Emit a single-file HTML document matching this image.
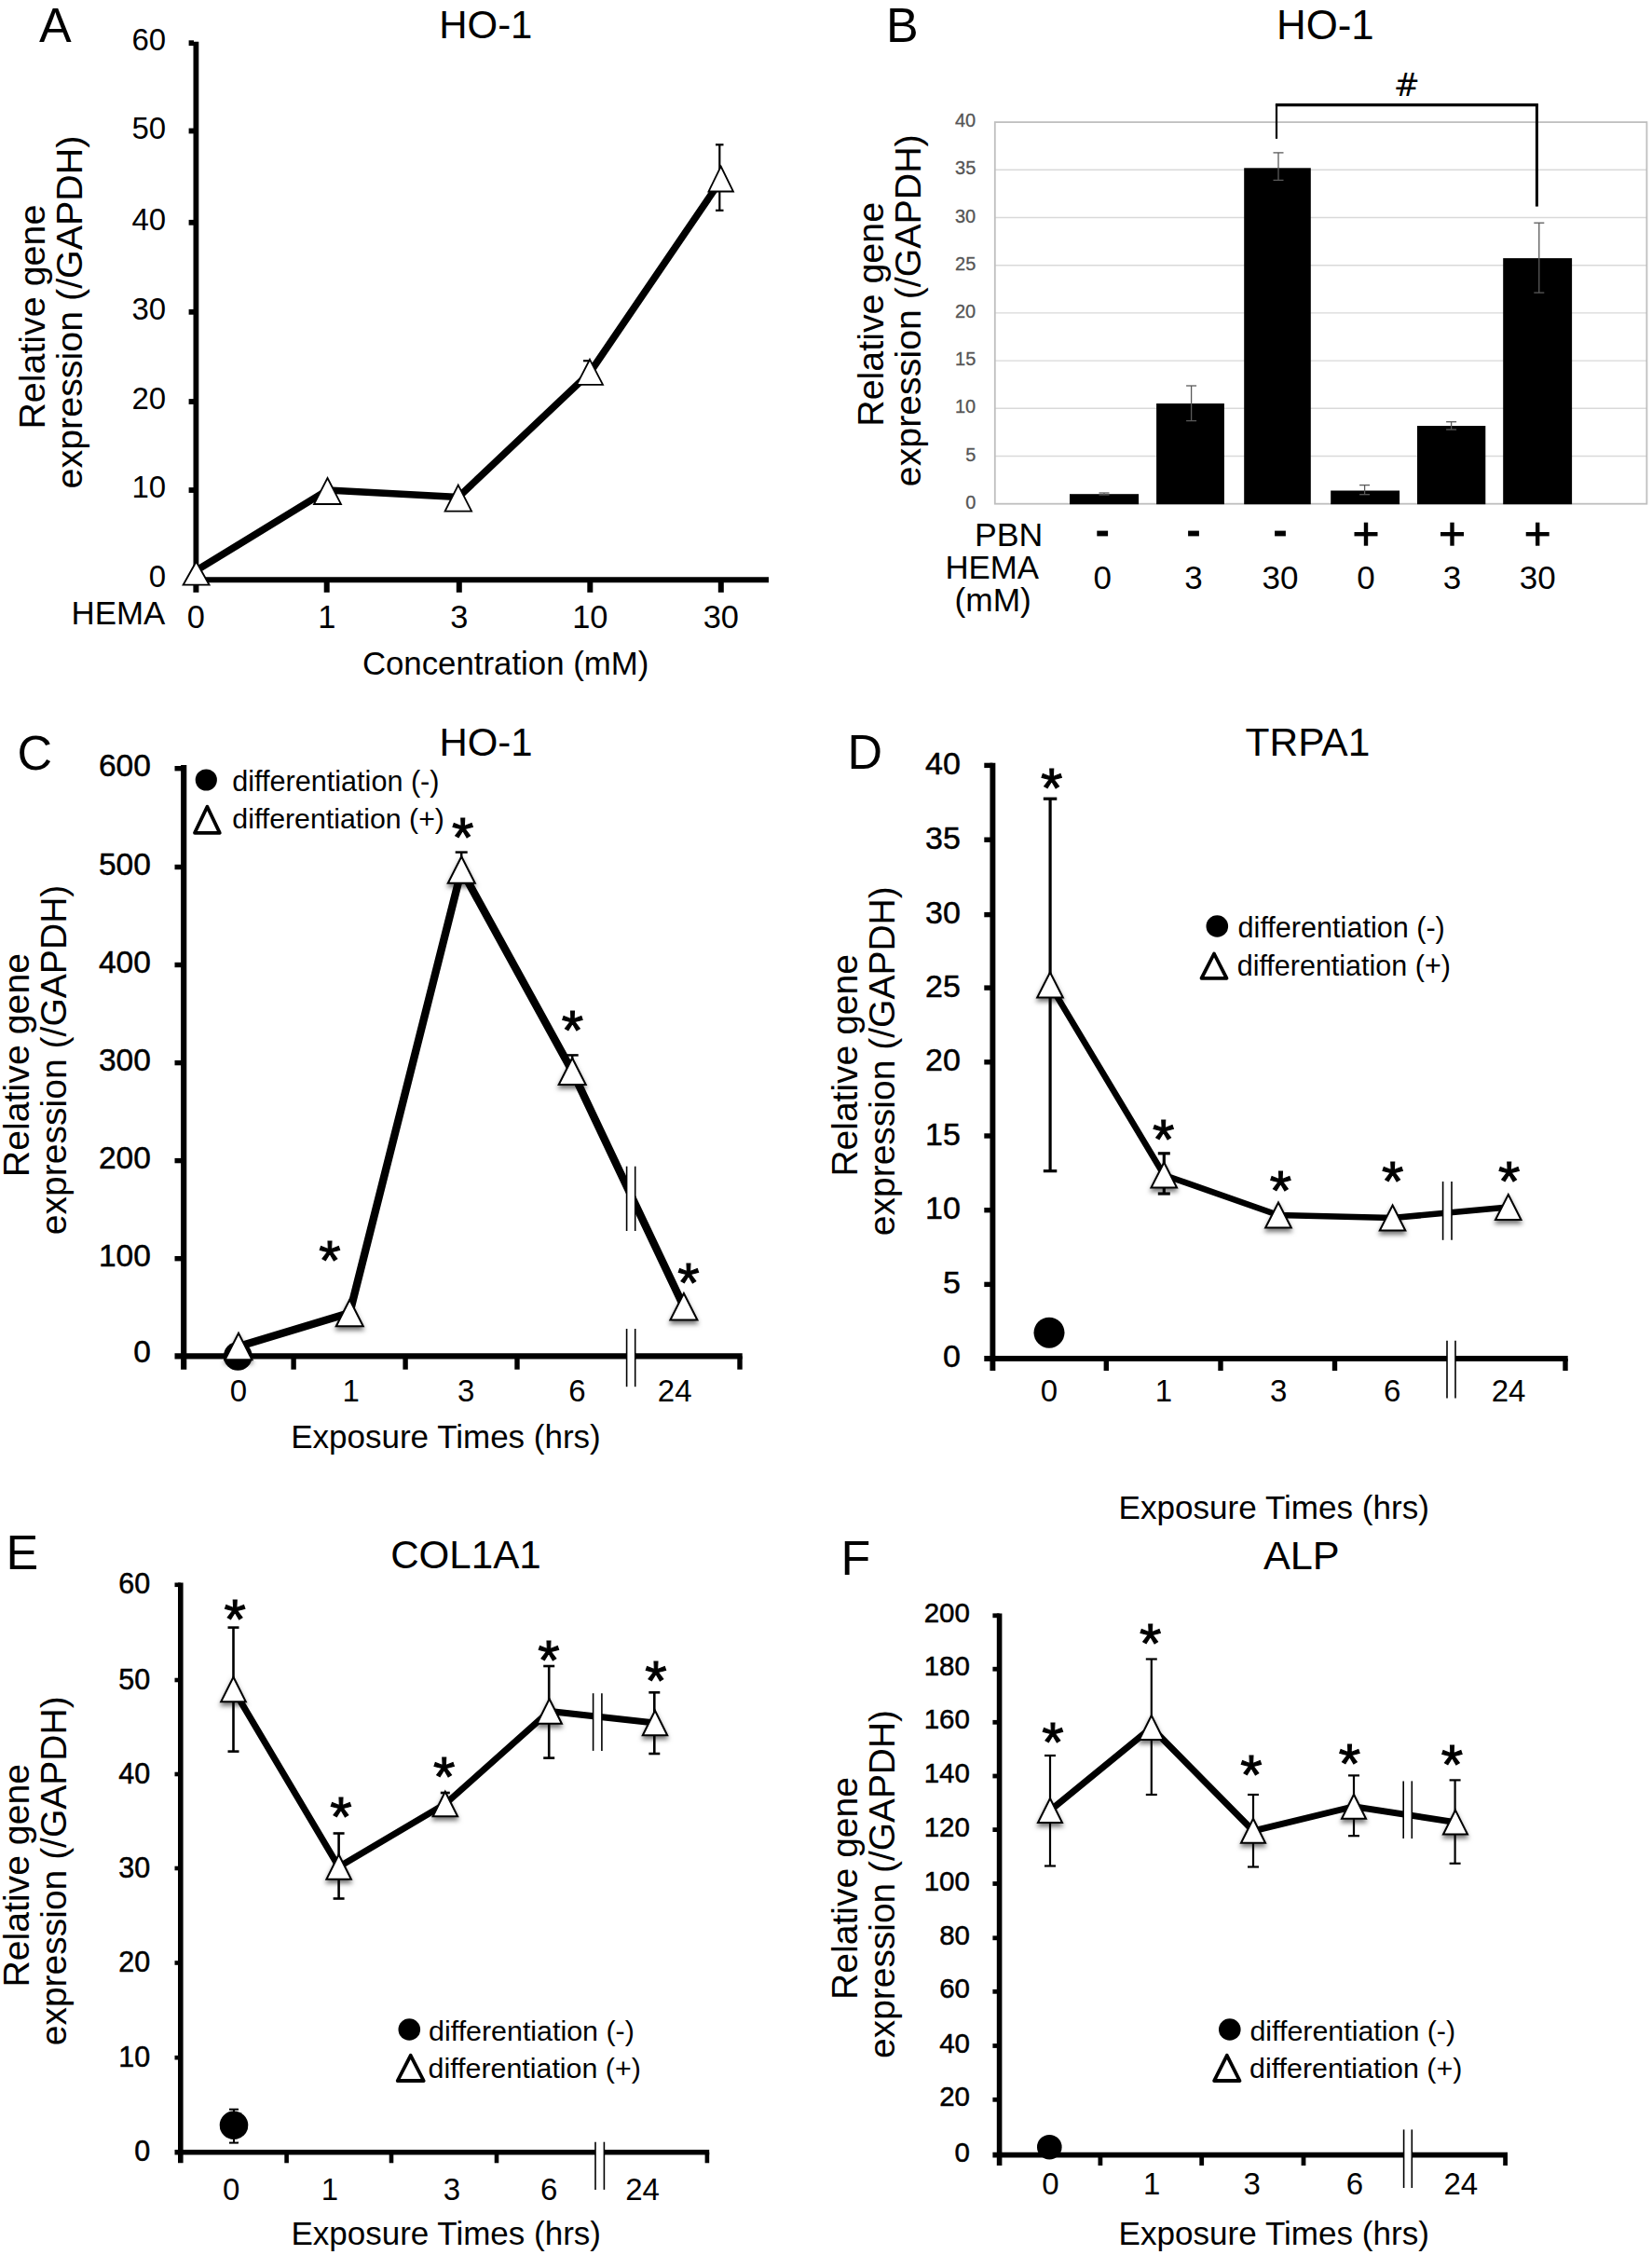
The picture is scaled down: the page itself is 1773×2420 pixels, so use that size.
<!DOCTYPE html>
<html><head><meta charset="utf-8"><title>Figure</title>
<style>
html,body{margin:0;padding:0;background:#fff;}
svg{display:block;font-family:"Liberation Sans",sans-serif;}
</style></head><body>
<svg width="1773" height="2420" viewBox="0 0 1773 2420">
<defs><filter id="sh" x="-40%" y="-40%" width="180%" height="200%"><feDropShadow dx="0" dy="3.5" stdDeviation="2.6" flood-color="#000" flood-opacity="0.55"/></filter></defs>
<rect width="1773" height="2420" fill="#fff"/>
<text x="42.0" y="45.0" font-size="52.0" fill="#000" >A</text>
<text x="471.3" y="41.3" font-size="41.9" fill="#000" >HO-1</text>
<line x1="210.4" y1="44.8" x2="210.4" y2="625.2" stroke="#000" stroke-width="5.8" stroke-linecap="butt"/>
<line x1="207.3" y1="622.2" x2="825.0" y2="622.2" stroke="#000" stroke-width="6" stroke-linecap="butt"/>
<line x1="202.6" y1="46.2" x2="208.0" y2="46.2" stroke="#000" stroke-width="5.8" stroke-linecap="butt"/>
<line x1="202.6" y1="140.5" x2="208.0" y2="140.5" stroke="#000" stroke-width="5.8" stroke-linecap="butt"/>
<line x1="202.6" y1="238.8" x2="208.0" y2="238.8" stroke="#000" stroke-width="5.8" stroke-linecap="butt"/>
<line x1="202.6" y1="334.8" x2="208.0" y2="334.8" stroke="#000" stroke-width="5.8" stroke-linecap="butt"/>
<line x1="202.6" y1="431.0" x2="208.0" y2="431.0" stroke="#000" stroke-width="5.8" stroke-linecap="butt"/>
<line x1="202.6" y1="526.0" x2="208.0" y2="526.0" stroke="#000" stroke-width="5.8" stroke-linecap="butt"/>
<text x="141.5" y="54.2" font-size="33.0" fill="#000" >60</text>
<text x="141.5" y="148.5" font-size="33.0" fill="#000" >50</text>
<text x="141.5" y="246.8" font-size="33.0" fill="#000" >40</text>
<text x="141.5" y="342.8" font-size="33.0" fill="#000" >30</text>
<text x="141.5" y="439.0" font-size="33.0" fill="#000" >20</text>
<text x="141.5" y="534.0" font-size="33.0" fill="#000" >10</text>
<text x="159.8" y="630.0" font-size="33.0" fill="#000" >0</text>
<line x1="210.4" y1="625.0" x2="210.4" y2="635.8" stroke="#000" stroke-width="6" stroke-linecap="butt"/>
<line x1="350.7" y1="625.0" x2="350.7" y2="635.8" stroke="#000" stroke-width="6" stroke-linecap="butt"/>
<line x1="492.8" y1="625.0" x2="492.8" y2="635.8" stroke="#000" stroke-width="6" stroke-linecap="butt"/>
<line x1="633.3" y1="625.0" x2="633.3" y2="635.8" stroke="#000" stroke-width="6" stroke-linecap="butt"/>
<line x1="773.8" y1="625.0" x2="773.8" y2="635.8" stroke="#000" stroke-width="6" stroke-linecap="butt"/>
<text x="210.4" y="674.0" font-size="34.4" text-anchor="middle" fill="#000" >0</text>
<text x="350.7" y="674.0" font-size="34.4" text-anchor="middle" fill="#000" >1</text>
<text x="492.8" y="674.0" font-size="34.4" text-anchor="middle" fill="#000" >3</text>
<text x="633.3" y="674.0" font-size="34.4" text-anchor="middle" fill="#000" >10</text>
<text x="773.8" y="674.0" font-size="34.4" text-anchor="middle" fill="#000" >30</text>
<text x="76.5" y="669.7" font-size="34.9" fill="#000" >HEMA</text>
<text x="388.9" y="724.0" font-size="34.8" fill="#000" >Concentration (mM)</text>
<text transform="translate(47.8 460.6) rotate(-90)" font-size="39.4" fill="#000">Relative gene</text>
<text transform="translate(87.8 524.4) rotate(-90)" font-size="39.4" fill="#000">expression (/GAPDH)</text>
<polyline fill="none" stroke="#000" stroke-width="7.6" stroke-linejoin="round" points="211,612 351.5,526 492,533.5 633,400 772.3,195.5"/>
<line x1="772.3" y1="155.3" x2="772.3" y2="225.8" stroke="#000" stroke-width="2.2" stroke-linecap="butt"/>
<line x1="768.0" y1="155.3" x2="776.5" y2="155.3" stroke="#000" stroke-width="2.2" stroke-linecap="butt"/>
<line x1="768.0" y1="225.8" x2="776.5" y2="225.8" stroke="#000" stroke-width="2.2" stroke-linecap="butt"/>
<line x1="626.0" y1="387.2" x2="634.0" y2="387.2" stroke="#000" stroke-width="2.2" stroke-linecap="butt"/>
<polygon points="210.6,602.7 224.6,627.7 196.6,627.7" fill="#fff" stroke="#000" stroke-width="1.8" stroke-linejoin="miter"/>
<polygon points="351.5,513.0 366.0,541.0 337.0,541.0" fill="#fff" stroke="#000" stroke-width="1.8" stroke-linejoin="miter"/>
<polygon points="491.8,520.6 506.1,548.6 477.6,548.6" fill="#fff" stroke="#000" stroke-width="1.8" stroke-linejoin="miter"/>
<polygon points="633.0,385.8 647.0,412.8 619.0,412.8" fill="#fff" stroke="#000" stroke-width="1.8" stroke-linejoin="miter"/>
<polygon points="773.7,178.5 787.0,205.5 760.5,205.5" fill="#fff" stroke="#000" stroke-width="1.8" stroke-linejoin="miter"/>
<text x="950.9" y="44.5" font-size="52.0" fill="#000" >B</text>
<text x="1370.1" y="41.5" font-size="43.8" fill="#000" >HO-1</text>
<line x1="1067.8" y1="489.5" x2="1767.4" y2="489.5" stroke="#d9d9d9" stroke-width="1.4" stroke-linecap="butt"/>
<line x1="1067.8" y1="438.3" x2="1767.4" y2="438.3" stroke="#d9d9d9" stroke-width="1.4" stroke-linecap="butt"/>
<line x1="1067.8" y1="387.1" x2="1767.4" y2="387.1" stroke="#d9d9d9" stroke-width="1.4" stroke-linecap="butt"/>
<line x1="1067.8" y1="335.9" x2="1767.4" y2="335.9" stroke="#d9d9d9" stroke-width="1.4" stroke-linecap="butt"/>
<line x1="1067.8" y1="284.7" x2="1767.4" y2="284.7" stroke="#d9d9d9" stroke-width="1.4" stroke-linecap="butt"/>
<line x1="1067.8" y1="233.5" x2="1767.4" y2="233.5" stroke="#d9d9d9" stroke-width="1.4" stroke-linecap="butt"/>
<line x1="1067.8" y1="182.3" x2="1767.4" y2="182.3" stroke="#d9d9d9" stroke-width="1.4" stroke-linecap="butt"/>
<rect x="1067.8" y="131.1" width="699.6" height="409.6" fill="none" stroke="#bfbfbf" stroke-width="1.8"/>
<text x="1036.2" y="545.8" font-size="20.0" fill="#555" stroke="#555" stroke-width="0.3">0</text>
<text x="1036.2" y="494.6" font-size="20.0" fill="#555" stroke="#555" stroke-width="0.3">5</text>
<text x="1025.0" y="443.4" font-size="20.0" fill="#555" stroke="#555" stroke-width="0.3">10</text>
<text x="1025.1" y="392.2" font-size="20.0" fill="#555" stroke="#555" stroke-width="0.3">15</text>
<text x="1025.0" y="341.0" font-size="20.0" fill="#555" stroke="#555" stroke-width="0.3">20</text>
<text x="1025.1" y="289.8" font-size="20.0" fill="#555" stroke="#555" stroke-width="0.3">25</text>
<text x="1025.0" y="238.6" font-size="20.0" fill="#555" stroke="#555" stroke-width="0.3">30</text>
<text x="1025.1" y="187.4" font-size="20.0" fill="#555" stroke="#555" stroke-width="0.3">35</text>
<text x="1025.0" y="136.2" font-size="20.0" fill="#555" stroke="#555" stroke-width="0.3">40</text>
<rect x="1148.0" y="530.2" width="74.1" height="11.0" fill="#000"/>
<rect x="1241.1" y="433.0" width="72.8" height="108.2" fill="#000"/>
<rect x="1335.2" y="180.3" width="71.6" height="360.9" fill="#000"/>
<rect x="1428.2" y="526.5" width="73.9" height="14.7" fill="#000"/>
<rect x="1521.0" y="457.0" width="73.3" height="84.2" fill="#000"/>
<rect x="1613.2" y="277.1" width="73.9" height="264.1" fill="#000"/>
<line x1="1185.0" y1="529.0" x2="1185.0" y2="531.0" stroke="#5a5a5a" stroke-width="1.3" stroke-linecap="butt"/>
<line x1="1179.5" y1="529.0" x2="1190.5" y2="529.0" stroke="#5a5a5a" stroke-width="1.3" stroke-linecap="butt"/>
<line x1="1179.5" y1="531.0" x2="1190.5" y2="531.0" stroke="#5a5a5a" stroke-width="1.3" stroke-linecap="butt"/>
<line x1="1278.6" y1="414.0" x2="1278.6" y2="451.6" stroke="#5a5a5a" stroke-width="1.3" stroke-linecap="butt"/>
<line x1="1273.1" y1="414.0" x2="1284.1" y2="414.0" stroke="#5a5a5a" stroke-width="1.3" stroke-linecap="butt"/>
<line x1="1273.1" y1="451.6" x2="1284.1" y2="451.6" stroke="#5a5a5a" stroke-width="1.3" stroke-linecap="butt"/>
<line x1="1372.0" y1="163.9" x2="1372.0" y2="193.4" stroke="#5a5a5a" stroke-width="1.3" stroke-linecap="butt"/>
<line x1="1366.5" y1="163.9" x2="1377.5" y2="163.9" stroke="#5a5a5a" stroke-width="1.3" stroke-linecap="butt"/>
<line x1="1366.5" y1="193.4" x2="1377.5" y2="193.4" stroke="#5a5a5a" stroke-width="1.3" stroke-linecap="butt"/>
<line x1="1464.6" y1="520.6" x2="1464.6" y2="530.7" stroke="#5a5a5a" stroke-width="1.3" stroke-linecap="butt"/>
<line x1="1459.1" y1="520.6" x2="1470.1" y2="520.6" stroke="#5a5a5a" stroke-width="1.3" stroke-linecap="butt"/>
<line x1="1459.1" y1="530.7" x2="1470.1" y2="530.7" stroke="#5a5a5a" stroke-width="1.3" stroke-linecap="butt"/>
<line x1="1557.6" y1="452.7" x2="1557.6" y2="461.0" stroke="#5a5a5a" stroke-width="1.3" stroke-linecap="butt"/>
<line x1="1552.1" y1="452.7" x2="1563.1" y2="452.7" stroke="#5a5a5a" stroke-width="1.3" stroke-linecap="butt"/>
<line x1="1552.1" y1="461.0" x2="1563.1" y2="461.0" stroke="#5a5a5a" stroke-width="1.3" stroke-linecap="butt"/>
<line x1="1651.8" y1="239.2" x2="1651.8" y2="314.1" stroke="#5a5a5a" stroke-width="1.3" stroke-linecap="butt"/>
<line x1="1646.3" y1="239.2" x2="1657.3" y2="239.2" stroke="#5a5a5a" stroke-width="1.3" stroke-linecap="butt"/>
<line x1="1646.3" y1="314.1" x2="1657.3" y2="314.1" stroke="#5a5a5a" stroke-width="1.3" stroke-linecap="butt"/>
<line x1="1368.9" y1="112.6" x2="1650.9" y2="112.6" stroke="#000" stroke-width="3.4" stroke-linecap="butt"/>
<line x1="1370.0" y1="112.0" x2="1370.0" y2="148.9" stroke="#000" stroke-width="2.2" stroke-linecap="butt"/>
<line x1="1649.4" y1="112.0" x2="1649.4" y2="221.6" stroke="#000" stroke-width="3" stroke-linecap="butt"/>
<text x="1509.8" y="102.6" font-size="33.5" text-anchor="middle" font-family="DejaVu Sans, sans-serif">#</text>
<text x="1045.9" y="585.6" font-size="35.7" fill="#000" >PBN</text>
<text x="1014.4" y="620.9" font-size="34.8" fill="#000" >HEMA</text>
<text x="1024.5" y="655.5" font-size="35.3" fill="#000" >(mM)</text>
<line x1="1177.3" y1="572.5" x2="1189.1" y2="572.5" stroke="#000" stroke-width="5.8" stroke-linecap="butt"/>
<line x1="1275.1" y1="572.5" x2="1286.9" y2="572.5" stroke="#000" stroke-width="5.8" stroke-linecap="butt"/>
<line x1="1368.1" y1="572.5" x2="1379.9" y2="572.5" stroke="#000" stroke-width="5.8" stroke-linecap="butt"/>
<line x1="1453.5" y1="573.2" x2="1478.5" y2="573.2" stroke="#000" stroke-width="4.4" stroke-linecap="butt"/>
<line x1="1466.0" y1="560.7" x2="1466.0" y2="585.7" stroke="#000" stroke-width="4.4" stroke-linecap="butt"/>
<line x1="1546.0" y1="573.2" x2="1571.0" y2="573.2" stroke="#000" stroke-width="4.4" stroke-linecap="butt"/>
<line x1="1558.5" y1="560.7" x2="1558.5" y2="585.7" stroke="#000" stroke-width="4.4" stroke-linecap="butt"/>
<line x1="1637.7" y1="573.2" x2="1662.7" y2="573.2" stroke="#000" stroke-width="4.4" stroke-linecap="butt"/>
<line x1="1650.2" y1="560.7" x2="1650.2" y2="585.7" stroke="#000" stroke-width="4.4" stroke-linecap="butt"/>
<text x="1183.2" y="632.0" font-size="35" text-anchor="middle" fill="#000" >0</text>
<text x="1281.0" y="632.0" font-size="35" text-anchor="middle" fill="#000" >3</text>
<text x="1374.0" y="632.0" font-size="35" text-anchor="middle" fill="#000" >30</text>
<text x="1466.0" y="632.0" font-size="35" text-anchor="middle" fill="#000" >0</text>
<text x="1558.5" y="632.0" font-size="35" text-anchor="middle" fill="#000" >3</text>
<text x="1650.2" y="632.0" font-size="35" text-anchor="middle" fill="#000" >30</text>
<text transform="translate(948.2 457.8) rotate(-90)" font-size="39.4" fill="#000">Relative gene</text>
<text transform="translate(987.8 522.2) rotate(-90)" font-size="39.3" fill="#000">expression (/GAPDH)</text>
<text x="18.6" y="825.8" font-size="52.0" fill="#000" >C</text>
<text x="471.5" y="810.7" font-size="41.9" fill="#000" >HO-1</text>
<line x1="197.2" y1="820.9" x2="197.2" y2="1469.7" stroke="#000" stroke-width="6.2" stroke-linecap="butt"/>
<line x1="187.5" y1="1455.4" x2="796.7" y2="1455.4" stroke="#000" stroke-width="6.2" stroke-linecap="butt"/>
<line x1="187.5" y1="824.7" x2="197.2" y2="824.7" stroke="#000" stroke-width="5.4" stroke-linecap="butt"/>
<line x1="187.5" y1="930.5" x2="197.2" y2="930.5" stroke="#000" stroke-width="5.4" stroke-linecap="butt"/>
<line x1="187.5" y1="1035.5" x2="197.2" y2="1035.5" stroke="#000" stroke-width="5.4" stroke-linecap="butt"/>
<line x1="187.5" y1="1140.6" x2="197.2" y2="1140.6" stroke="#000" stroke-width="5.4" stroke-linecap="butt"/>
<line x1="187.5" y1="1245.6" x2="197.2" y2="1245.6" stroke="#000" stroke-width="5.4" stroke-linecap="butt"/>
<line x1="187.5" y1="1350.7" x2="197.2" y2="1350.7" stroke="#000" stroke-width="5.4" stroke-linecap="butt"/>
<text x="105.9" y="832.7" font-size="33.5" fill="#000" stroke="#000" stroke-width="0.5">600</text>
<text x="105.9" y="938.5" font-size="33.5" fill="#000" stroke="#000" stroke-width="0.5">500</text>
<text x="105.9" y="1043.5" font-size="33.5" fill="#000" stroke="#000" stroke-width="0.5">400</text>
<text x="105.9" y="1148.6" font-size="33.5" fill="#000" stroke="#000" stroke-width="0.5">300</text>
<text x="105.9" y="1253.6" font-size="33.5" fill="#000" stroke="#000" stroke-width="0.5">200</text>
<text x="105.9" y="1358.7" font-size="33.5" fill="#000" stroke="#000" stroke-width="0.5">100</text>
<text x="143.2" y="1462.3" font-size="33.5" fill="#000" stroke="#000" stroke-width="0.5">0</text>
<line x1="315.1" y1="1455.4" x2="315.1" y2="1469.7" stroke="#000" stroke-width="5.4" stroke-linecap="butt"/>
<line x1="435.1" y1="1455.4" x2="435.1" y2="1469.7" stroke="#000" stroke-width="5.4" stroke-linecap="butt"/>
<line x1="555.0" y1="1455.4" x2="555.0" y2="1469.7" stroke="#000" stroke-width="5.4" stroke-linecap="butt"/>
<line x1="794.0" y1="1455.4" x2="794.0" y2="1469.7" stroke="#000" stroke-width="5.4" stroke-linecap="butt"/>
<text x="246.8" y="1504.0" font-size="33.0" fill="#000" >0</text>
<text x="367.4" y="1504.0" font-size="33.0" fill="#000" >1</text>
<text x="490.9" y="1504.0" font-size="33.0" fill="#000" >3</text>
<text x="610.2" y="1504.0" font-size="33.0" fill="#000" >6</text>
<text x="705.8" y="1504.0" font-size="33.0" fill="#000" >24</text>
<text x="312.2" y="1553.8" font-size="35.0" fill="#000" >Exposure Times (hrs)</text>
<text transform="translate(31.3 1263.2) rotate(-90)" font-size="39.3" fill="#000">Relative gene</text>
<text transform="translate(70.5 1325.3) rotate(-90)" font-size="39.1" fill="#000">expression (/GAPDH)</text>
<circle cx="255.3" cy="1455.4" r="15.4" fill="#000"/>
<polyline fill="none" stroke="#000" stroke-width="8.4" stroke-linejoin="miter" points="256,1445 375.3,1409 495.3,933.5 614.2,1149.7 733.9,1402.3"/>
<rect x="672.6" y="1251.7" width="9.1" height="69.3" fill="#fff"/>
<line x1="672.6" y1="1251.7" x2="672.6" y2="1321.0" stroke="#000" stroke-width="1.6" stroke-linecap="butt"/>
<line x1="681.7" y1="1251.7" x2="681.7" y2="1321.0" stroke="#000" stroke-width="1.6" stroke-linecap="butt"/>
<rect x="672.6" y="1426.0" width="9.1" height="62.2" fill="#fff"/>
<line x1="672.6" y1="1426.0" x2="672.6" y2="1488.2" stroke="#000" stroke-width="1.6" stroke-linecap="butt"/>
<line x1="681.7" y1="1426.0" x2="681.7" y2="1488.2" stroke="#000" stroke-width="1.6" stroke-linecap="butt"/>
<line x1="495.2" y1="914.6" x2="495.2" y2="935.0" stroke="#000" stroke-width="2.5" stroke-linecap="butt"/>
<line x1="488.7" y1="914.6" x2="501.7" y2="914.6" stroke="#000" stroke-width="2.5" stroke-linecap="butt"/>
<line x1="488.7" y1="935.0" x2="501.7" y2="935.0" stroke="#000" stroke-width="2.5" stroke-linecap="butt"/>
<line x1="614.2" y1="1132.4" x2="614.2" y2="1152.0" stroke="#000" stroke-width="2.5" stroke-linecap="butt"/>
<line x1="607.7" y1="1132.4" x2="620.7" y2="1132.4" stroke="#000" stroke-width="2.5" stroke-linecap="butt"/>
<line x1="607.7" y1="1152.0" x2="620.7" y2="1152.0" stroke="#000" stroke-width="2.5" stroke-linecap="butt"/>
<polygon points="256.0,1430.8 270.5,1459.2 241.5,1459.2" fill="#fff" stroke="#000" stroke-width="2" stroke-linejoin="miter" filter="url(#sh)"/>
<polygon points="375.3,1394.8 389.8,1423.2 360.8,1423.2" fill="#fff" stroke="#000" stroke-width="2" stroke-linejoin="miter" filter="url(#sh)"/>
<polygon points="495.3,919.2 509.8,947.8 480.8,947.8" fill="#fff" stroke="#000" stroke-width="2" stroke-linejoin="miter" filter="url(#sh)"/>
<polygon points="614.2,1135.5 628.7,1164.0 599.7,1164.0" fill="#fff" stroke="#000" stroke-width="2" stroke-linejoin="miter" filter="url(#sh)"/>
<polygon points="733.9,1388.0 748.4,1416.5 719.4,1416.5" fill="#fff" stroke="#000" stroke-width="2" stroke-linejoin="miter" filter="url(#sh)"/>
<text x="484.9" y="918.8" font-size="60" fill="#000" stroke="#000" stroke-width="1.1">*</text>
<text x="602.8" y="1126.1" font-size="60" fill="#000" stroke="#000" stroke-width="1.1">*</text>
<text x="342.3" y="1372.8" font-size="60" fill="#000" stroke="#000" stroke-width="1.1">*</text>
<text x="727.2" y="1396.9" font-size="60" fill="#000" stroke="#000" stroke-width="1.1">*</text>
<circle cx="221.3" cy="837" r="11.6" fill="#000"/>
<text x="249.3" y="849.2" font-size="30.6" fill="#000" >differentiation (-)</text>
<polygon points="222.4,865.7 235.8,893.8 209.0,893.8" fill="#fff" stroke="#000" stroke-width="3.8" stroke-linejoin="round"/>
<text x="249.3" y="889.1" font-size="30.3" fill="#000" >differentiation (+)</text>
<text x="909.4" y="824.5" font-size="52.0" fill="#000" >D</text>
<text x="1336.5" y="811.0" font-size="42.5" fill="#000" >TRPA1</text>
<line x1="1065.4" y1="818.7" x2="1065.4" y2="1471.0" stroke="#000" stroke-width="5.9" stroke-linecap="butt"/>
<line x1="1056.3" y1="1458.0" x2="1682.7" y2="1458.0" stroke="#000" stroke-width="5.9" stroke-linecap="butt"/>
<line x1="1056.3" y1="821.4" x2="1065.4" y2="821.4" stroke="#000" stroke-width="5.4" stroke-linecap="butt"/>
<line x1="1056.3" y1="901.2" x2="1065.4" y2="901.2" stroke="#000" stroke-width="5.4" stroke-linecap="butt"/>
<line x1="1056.3" y1="981.6" x2="1065.4" y2="981.6" stroke="#000" stroke-width="5.4" stroke-linecap="butt"/>
<line x1="1056.3" y1="1060.1" x2="1065.4" y2="1060.1" stroke="#000" stroke-width="5.4" stroke-linecap="butt"/>
<line x1="1056.3" y1="1139.8" x2="1065.4" y2="1139.8" stroke="#000" stroke-width="5.4" stroke-linecap="butt"/>
<line x1="1056.3" y1="1219.0" x2="1065.4" y2="1219.0" stroke="#000" stroke-width="5.4" stroke-linecap="butt"/>
<line x1="1056.3" y1="1298.7" x2="1065.4" y2="1298.7" stroke="#000" stroke-width="5.4" stroke-linecap="butt"/>
<line x1="1056.3" y1="1378.4" x2="1065.4" y2="1378.4" stroke="#000" stroke-width="5.4" stroke-linecap="butt"/>
<text x="993.0" y="830.9" font-size="34.0" fill="#000" stroke="#000" stroke-width="0.5">40</text>
<text x="993.1" y="910.7" font-size="34.0" fill="#000" stroke="#000" stroke-width="0.5">35</text>
<text x="993.0" y="991.1" font-size="34.0" fill="#000" stroke="#000" stroke-width="0.5">30</text>
<text x="993.1" y="1069.6" font-size="34.0" fill="#000" stroke="#000" stroke-width="0.5">25</text>
<text x="993.0" y="1149.3" font-size="34.0" fill="#000" stroke="#000" stroke-width="0.5">20</text>
<text x="993.1" y="1228.5" font-size="34.0" fill="#000" stroke="#000" stroke-width="0.5">15</text>
<text x="993.0" y="1308.2" font-size="34.0" fill="#000" stroke="#000" stroke-width="0.5">10</text>
<text x="1012.0" y="1387.9" font-size="34.0" fill="#000" stroke="#000" stroke-width="0.5">5</text>
<text x="1011.9" y="1467.4" font-size="34.0" fill="#000" stroke="#000" stroke-width="0.5">0</text>
<line x1="1187.3" y1="1458.0" x2="1187.3" y2="1471.0" stroke="#000" stroke-width="5.4" stroke-linecap="butt"/>
<line x1="1310.0" y1="1458.0" x2="1310.0" y2="1471.0" stroke="#000" stroke-width="5.4" stroke-linecap="butt"/>
<line x1="1432.5" y1="1458.0" x2="1432.5" y2="1471.0" stroke="#000" stroke-width="5.4" stroke-linecap="butt"/>
<line x1="1680.0" y1="1458.0" x2="1680.0" y2="1471.0" stroke="#000" stroke-width="5.4" stroke-linecap="butt"/>
<text x="1116.8" y="1504.3" font-size="33.0" fill="#000" >0</text>
<text x="1239.7" y="1504.3" font-size="33.0" fill="#000" >1</text>
<text x="1362.9" y="1504.3" font-size="33.0" fill="#000" >3</text>
<text x="1485.1" y="1504.3" font-size="33.0" fill="#000" >6</text>
<text x="1600.7" y="1504.3" font-size="33.0" fill="#000" >24</text>
<text x="1200.6" y="1630.0" font-size="35.1" fill="#000" >Exposure Times (hrs)</text>
<text transform="translate(920.0 1262.6) rotate(-90)" font-size="39.0" fill="#000">Relative gene</text>
<text transform="translate(960.0 1326.2) rotate(-90)" font-size="39.0" fill="#000">expression (/GAPDH)</text>
<circle cx="1126" cy="1430.2" r="16.5" fill="#000"/>
<polyline fill="none" stroke="#000" stroke-width="6.6" stroke-linejoin="miter" points="1127,1057 1249.3,1261 1372,1304 1494.6,1307 1618.8,1295.5"/>
<rect x="1548.6" y="1268.0" width="9.4" height="62.8" fill="#fff"/>
<line x1="1548.6" y1="1268.0" x2="1548.6" y2="1330.8" stroke="#000" stroke-width="1.6" stroke-linecap="butt"/>
<line x1="1558.0" y1="1268.0" x2="1558.0" y2="1330.8" stroke="#000" stroke-width="1.6" stroke-linecap="butt"/>
<rect x="1553.0" y="1438.8" width="9.0" height="61.8" fill="#fff"/>
<line x1="1553.0" y1="1438.8" x2="1553.0" y2="1500.6" stroke="#000" stroke-width="1.6" stroke-linecap="butt"/>
<line x1="1562.0" y1="1438.8" x2="1562.0" y2="1500.6" stroke="#000" stroke-width="1.6" stroke-linecap="butt"/>
<line x1="1127.1" y1="857.2" x2="1127.1" y2="1256.7" stroke="#000" stroke-width="3.2" stroke-linecap="butt"/>
<line x1="1119.8" y1="857.2" x2="1134.3" y2="857.2" stroke="#000" stroke-width="3.2" stroke-linecap="butt"/>
<line x1="1119.8" y1="1256.7" x2="1134.3" y2="1256.7" stroke="#000" stroke-width="3.2" stroke-linecap="butt"/>
<line x1="1249.3" y1="1237.8" x2="1249.3" y2="1281.0" stroke="#000" stroke-width="3.2" stroke-linecap="butt"/>
<line x1="1242.8" y1="1237.8" x2="1255.8" y2="1237.8" stroke="#000" stroke-width="3.2" stroke-linecap="butt"/>
<line x1="1242.8" y1="1281.0" x2="1255.8" y2="1281.0" stroke="#000" stroke-width="3.2" stroke-linecap="butt"/>
<polygon points="1127.0,1043.5 1140.8,1070.5 1113.2,1070.5" fill="#fff" stroke="#000" stroke-width="2" stroke-linejoin="miter" filter="url(#sh)"/>
<polygon points="1249.3,1247.5 1263.0,1274.5 1235.5,1274.5" fill="#fff" stroke="#000" stroke-width="2" stroke-linejoin="miter" filter="url(#sh)"/>
<polygon points="1372.0,1290.5 1385.8,1317.5 1358.2,1317.5" fill="#fff" stroke="#000" stroke-width="2" stroke-linejoin="miter" filter="url(#sh)"/>
<polygon points="1494.6,1293.5 1508.3,1320.5 1480.8,1320.5" fill="#fff" stroke="#000" stroke-width="2" stroke-linejoin="miter" filter="url(#sh)"/>
<polygon points="1618.8,1282.0 1632.5,1309.0 1605.0,1309.0" fill="#fff" stroke="#000" stroke-width="2" stroke-linejoin="miter" filter="url(#sh)"/>
<text x="1117.0" y="865.8" font-size="60" fill="#000" stroke="#000" stroke-width="1.1">*</text>
<text x="1236.9" y="1243.1" font-size="60" fill="#000" stroke="#000" stroke-width="1.1">*</text>
<text x="1362.7" y="1298.0" font-size="60" fill="#000" stroke="#000" stroke-width="1.1">*</text>
<text x="1483.0" y="1287.5" font-size="60" fill="#000" stroke="#000" stroke-width="1.1">*</text>
<text x="1608.1" y="1287.5" font-size="60" fill="#000" stroke="#000" stroke-width="1.1">*</text>
<circle cx="1306.3" cy="994" r="11.8" fill="#000"/>
<text x="1328.6" y="1006.3" font-size="30.6" fill="#000" >differentiation (-)</text>
<polygon points="1303.0,1023.5 1316.5,1049.8 1289.5,1049.8" fill="#fff" stroke="#000" stroke-width="3.8" stroke-linejoin="round"/>
<text x="1327.7" y="1046.8" font-size="30.5" fill="#000" >differentiation (+)</text>
<text x="6.4" y="1683.6" font-size="52.0" fill="#000" >E</text>
<text x="419.2" y="1682.7" font-size="42.1" fill="#000" >COL1A1</text>
<line x1="193.8" y1="1698.5" x2="193.8" y2="2321.3" stroke="#000" stroke-width="5.6" stroke-linecap="butt"/>
<line x1="187.5" y1="2309.7" x2="761.2" y2="2309.7" stroke="#000" stroke-width="5.6" stroke-linecap="butt"/>
<line x1="187.5" y1="1700.8" x2="193.8" y2="1700.8" stroke="#000" stroke-width="4.6" stroke-linecap="butt"/>
<line x1="187.5" y1="1803.0" x2="193.8" y2="1803.0" stroke="#000" stroke-width="4.6" stroke-linecap="butt"/>
<line x1="187.5" y1="1904.0" x2="193.8" y2="1904.0" stroke="#000" stroke-width="4.6" stroke-linecap="butt"/>
<line x1="187.5" y1="2005.0" x2="193.8" y2="2005.0" stroke="#000" stroke-width="4.6" stroke-linecap="butt"/>
<line x1="187.5" y1="2106.5" x2="193.8" y2="2106.5" stroke="#000" stroke-width="4.6" stroke-linecap="butt"/>
<line x1="187.5" y1="2208.2" x2="193.8" y2="2208.2" stroke="#000" stroke-width="4.6" stroke-linecap="butt"/>
<text x="127.3" y="1710.3" font-size="30.5" fill="#000" stroke="#000" stroke-width="0.5">60</text>
<text x="127.3" y="1812.5" font-size="30.5" fill="#000" stroke="#000" stroke-width="0.5">50</text>
<text x="127.3" y="1913.5" font-size="30.5" fill="#000" stroke="#000" stroke-width="0.5">40</text>
<text x="127.3" y="2014.5" font-size="30.5" fill="#000" stroke="#000" stroke-width="0.5">30</text>
<text x="127.3" y="2116.0" font-size="30.5" fill="#000" stroke="#000" stroke-width="0.5">20</text>
<text x="127.3" y="2217.7" font-size="30.5" fill="#000" stroke="#000" stroke-width="0.5">10</text>
<text x="144.2" y="2319.2" font-size="30.5" fill="#000" stroke="#000" stroke-width="0.5">0</text>
<line x1="307.6" y1="2309.7" x2="307.6" y2="2321.3" stroke="#000" stroke-width="4.6" stroke-linecap="butt"/>
<line x1="420.0" y1="2309.7" x2="420.0" y2="2321.3" stroke="#000" stroke-width="4.6" stroke-linecap="butt"/>
<line x1="533.0" y1="2309.7" x2="533.0" y2="2321.3" stroke="#000" stroke-width="4.6" stroke-linecap="butt"/>
<line x1="758.9" y1="2309.7" x2="758.9" y2="2321.3" stroke="#000" stroke-width="4.6" stroke-linecap="butt"/>
<text x="239.0" y="2361.0" font-size="33.0" fill="#000" >0</text>
<text x="344.8" y="2361.0" font-size="33.0" fill="#000" >1</text>
<text x="475.7" y="2361.0" font-size="33.0" fill="#000" >3</text>
<text x="580.0" y="2361.0" font-size="33.0" fill="#000" >6</text>
<text x="671.2" y="2361.0" font-size="33.0" fill="#000" >24</text>
<text x="312.4" y="2409.4" font-size="35.0" fill="#000" >Exposure Times (hrs)</text>
<text transform="translate(31.3 2132.6) rotate(-90)" font-size="39.2" fill="#000">Relative gene</text>
<text transform="translate(70.5 2195.3) rotate(-90)" font-size="39.0" fill="#000">expression (/GAPDH)</text>
<line x1="251.0" y1="2263.7" x2="251.0" y2="2299.6" stroke="#000" stroke-width="2" stroke-linecap="butt"/>
<line x1="246.0" y1="2263.7" x2="256.0" y2="2263.7" stroke="#000" stroke-width="2" stroke-linecap="butt"/>
<line x1="246.0" y1="2299.6" x2="256.0" y2="2299.6" stroke="#000" stroke-width="2" stroke-linecap="butt"/>
<circle cx="251" cy="2280.8" r="15.3" fill="#000"/>
<polyline fill="none" stroke="#000" stroke-width="7" stroke-linejoin="miter" points="250.5,1813 363.6,2003.5 477.8,1936 589.6,1836.5 703,1849"/>
<rect x="636.6" y="1817.2" width="9.3" height="61.7" fill="#fff"/>
<line x1="636.6" y1="1817.2" x2="636.6" y2="1878.9" stroke="#000" stroke-width="1.6" stroke-linecap="butt"/>
<line x1="645.9" y1="1817.2" x2="645.9" y2="1878.9" stroke="#000" stroke-width="1.6" stroke-linecap="butt"/>
<rect x="639.0" y="2298.7" width="9.4" height="51.2" fill="#fff"/>
<line x1="639.0" y1="2298.7" x2="639.0" y2="2349.9" stroke="#000" stroke-width="1.6" stroke-linecap="butt"/>
<line x1="648.4" y1="2298.7" x2="648.4" y2="2349.9" stroke="#000" stroke-width="1.6" stroke-linecap="butt"/>
<line x1="250.5" y1="1746.6" x2="250.5" y2="1879.6" stroke="#000" stroke-width="2.6" stroke-linecap="butt"/>
<line x1="244.5" y1="1746.6" x2="256.5" y2="1746.6" stroke="#000" stroke-width="2.6" stroke-linecap="butt"/>
<line x1="244.5" y1="1879.6" x2="256.5" y2="1879.6" stroke="#000" stroke-width="2.6" stroke-linecap="butt"/>
<line x1="363.6" y1="1967.5" x2="363.6" y2="2037.5" stroke="#000" stroke-width="2.6" stroke-linecap="butt"/>
<line x1="357.6" y1="1967.5" x2="369.6" y2="1967.5" stroke="#000" stroke-width="2.6" stroke-linecap="butt"/>
<line x1="357.6" y1="2037.5" x2="369.6" y2="2037.5" stroke="#000" stroke-width="2.6" stroke-linecap="butt"/>
<line x1="477.8" y1="1924.0" x2="477.8" y2="1940.0" stroke="#000" stroke-width="2.6" stroke-linecap="butt"/>
<line x1="472.8" y1="1924.0" x2="482.8" y2="1924.0" stroke="#000" stroke-width="2.6" stroke-linecap="butt"/>
<line x1="472.8" y1="1940.0" x2="482.8" y2="1940.0" stroke="#000" stroke-width="2.6" stroke-linecap="butt"/>
<line x1="589.2" y1="1788.0" x2="589.2" y2="1886.6" stroke="#000" stroke-width="2.6" stroke-linecap="butt"/>
<line x1="583.2" y1="1788.0" x2="595.2" y2="1788.0" stroke="#000" stroke-width="2.6" stroke-linecap="butt"/>
<line x1="583.2" y1="1886.6" x2="595.2" y2="1886.6" stroke="#000" stroke-width="2.6" stroke-linecap="butt"/>
<line x1="702.3" y1="1816.3" x2="702.3" y2="1882.0" stroke="#000" stroke-width="2.6" stroke-linecap="butt"/>
<line x1="696.3" y1="1816.3" x2="708.3" y2="1816.3" stroke="#000" stroke-width="2.6" stroke-linecap="butt"/>
<line x1="696.3" y1="1882.0" x2="708.3" y2="1882.0" stroke="#000" stroke-width="2.6" stroke-linecap="butt"/>
<polygon points="250.5,1799.8 263.8,1826.2 237.2,1826.2" fill="#fff" stroke="#000" stroke-width="2" stroke-linejoin="miter" filter="url(#sh)"/>
<polygon points="363.6,1990.2 376.9,2016.8 350.4,2016.8" fill="#fff" stroke="#000" stroke-width="2" stroke-linejoin="miter" filter="url(#sh)"/>
<polygon points="477.8,1922.8 491.1,1949.2 464.6,1949.2" fill="#fff" stroke="#000" stroke-width="2" stroke-linejoin="miter" filter="url(#sh)"/>
<polygon points="589.6,1823.2 602.9,1849.8 576.4,1849.8" fill="#fff" stroke="#000" stroke-width="2" stroke-linejoin="miter" filter="url(#sh)"/>
<polygon points="703.0,1835.8 716.2,1862.2 689.8,1862.2" fill="#fff" stroke="#000" stroke-width="2" stroke-linejoin="miter" filter="url(#sh)"/>
<text x="240.5" y="1758.0" font-size="60" fill="#000" stroke="#000" stroke-width="1.1">*</text>
<text x="354.3" y="1970.2" font-size="60" fill="#000" stroke="#000" stroke-width="1.1">*</text>
<text x="465.0" y="1926.6" font-size="60" fill="#000" stroke="#000" stroke-width="1.1">*</text>
<text x="577.3" y="1802.0" font-size="60" fill="#000" stroke="#000" stroke-width="1.1">*</text>
<text x="692.3" y="1824.4" font-size="60" fill="#000" stroke="#000" stroke-width="1.1">*</text>
<circle cx="439.3" cy="2178" r="11.8" fill="#000"/>
<text x="460.1" y="2189.9" font-size="30.4" fill="#000" >differentiation (-)</text>
<polygon points="440.7,2205.8 454.7,2233.0 426.7,2233.0" fill="#fff" stroke="#000" stroke-width="3.8" stroke-linejoin="round"/>
<text x="459.5" y="2230.0" font-size="30.4" fill="#000" >differentiation (+)</text>
<text x="902.6" y="1690.0" font-size="52.0" fill="#000" >F</text>
<text x="1355.9" y="1683.8" font-size="43.3" fill="#000" >ALP</text>
<line x1="1072.6" y1="1731.6" x2="1072.6" y2="2324.0" stroke="#000" stroke-width="5.6" stroke-linecap="butt"/>
<line x1="1065.4" y1="2312.6" x2="1618.0" y2="2312.6" stroke="#000" stroke-width="5.6" stroke-linecap="butt"/>
<line x1="1065.4" y1="1733.8" x2="1072.6" y2="1733.8" stroke="#000" stroke-width="4.8" stroke-linecap="butt"/>
<line x1="1065.4" y1="1791.2" x2="1072.6" y2="1791.2" stroke="#000" stroke-width="4.8" stroke-linecap="butt"/>
<line x1="1065.4" y1="1848.3" x2="1072.6" y2="1848.3" stroke="#000" stroke-width="4.8" stroke-linecap="butt"/>
<line x1="1065.4" y1="1906.0" x2="1072.6" y2="1906.0" stroke="#000" stroke-width="4.8" stroke-linecap="butt"/>
<line x1="1065.4" y1="1963.6" x2="1072.6" y2="1963.6" stroke="#000" stroke-width="4.8" stroke-linecap="butt"/>
<line x1="1065.4" y1="2021.5" x2="1072.6" y2="2021.5" stroke="#000" stroke-width="4.8" stroke-linecap="butt"/>
<line x1="1065.4" y1="2079.8" x2="1072.6" y2="2079.8" stroke="#000" stroke-width="4.8" stroke-linecap="butt"/>
<line x1="1065.4" y1="2137.3" x2="1072.6" y2="2137.3" stroke="#000" stroke-width="4.8" stroke-linecap="butt"/>
<line x1="1065.4" y1="2195.5" x2="1072.6" y2="2195.5" stroke="#000" stroke-width="4.8" stroke-linecap="butt"/>
<line x1="1065.4" y1="2253.3" x2="1072.6" y2="2253.3" stroke="#000" stroke-width="4.8" stroke-linecap="butt"/>
<text x="991.7" y="1740.8" font-size="29.5" fill="#000" stroke="#000" stroke-width="0.5">200</text>
<text x="991.7" y="1798.2" font-size="29.5" fill="#000" stroke="#000" stroke-width="0.5">180</text>
<text x="991.7" y="1855.3" font-size="29.5" fill="#000" stroke="#000" stroke-width="0.5">160</text>
<text x="991.7" y="1913.0" font-size="29.5" fill="#000" stroke="#000" stroke-width="0.5">140</text>
<text x="991.7" y="1970.6" font-size="29.5" fill="#000" stroke="#000" stroke-width="0.5">120</text>
<text x="991.7" y="2028.5" font-size="29.5" fill="#000" stroke="#000" stroke-width="0.5">100</text>
<text x="1008.2" y="2086.8" font-size="29.5" fill="#000" stroke="#000" stroke-width="0.5">80</text>
<text x="1008.2" y="2144.3" font-size="29.5" fill="#000" stroke="#000" stroke-width="0.5">60</text>
<text x="1008.2" y="2202.5" font-size="29.5" fill="#000" stroke="#000" stroke-width="0.5">40</text>
<text x="1008.2" y="2260.3" font-size="29.5" fill="#000" stroke="#000" stroke-width="0.5">20</text>
<text x="1024.5" y="2319.6" font-size="29.5" fill="#000" stroke="#000" stroke-width="0.5">0</text>
<line x1="1180.9" y1="2312.6" x2="1180.9" y2="2324.0" stroke="#000" stroke-width="4.8" stroke-linecap="butt"/>
<line x1="1289.7" y1="2312.6" x2="1289.7" y2="2324.0" stroke="#000" stroke-width="4.8" stroke-linecap="butt"/>
<line x1="1399.0" y1="2312.6" x2="1399.0" y2="2324.0" stroke="#000" stroke-width="4.8" stroke-linecap="butt"/>
<line x1="1615.6" y1="2312.6" x2="1615.6" y2="2324.0" stroke="#000" stroke-width="4.8" stroke-linecap="butt"/>
<text x="1118.2" y="2355.0" font-size="33.0" fill="#000" >0</text>
<text x="1226.9" y="2355.0" font-size="33.0" fill="#000" >1</text>
<text x="1334.5" y="2355.0" font-size="33.0" fill="#000" >3</text>
<text x="1444.7" y="2355.0" font-size="33.0" fill="#000" >6</text>
<text x="1549.5" y="2355.0" font-size="33.0" fill="#000" >24</text>
<text x="1200.6" y="2409.0" font-size="35.1" fill="#000" >Exposure Times (hrs)</text>
<text transform="translate(920.0 2145.9) rotate(-90)" font-size="39.1" fill="#000">Relative gene</text>
<text transform="translate(960.0 2208.9) rotate(-90)" font-size="38.9" fill="#000">expression (/GAPDH)</text>
<circle cx="1126.3" cy="2304.2" r="13.3" fill="#000"/>
<polyline fill="none" stroke="#000" stroke-width="7" stroke-linejoin="miter" points="1127,1943 1235.8,1854 1345,1964.8 1453,1938.7 1562,1955.6"/>
<rect x="1506.2" y="1911.4" width="9.1" height="61.7" fill="#fff"/>
<line x1="1506.2" y1="1911.4" x2="1506.2" y2="1973.1" stroke="#000" stroke-width="1.6" stroke-linecap="butt"/>
<line x1="1515.3" y1="1911.4" x2="1515.3" y2="1973.1" stroke="#000" stroke-width="1.6" stroke-linecap="butt"/>
<rect x="1506.6" y="2285.4" width="8.7" height="62.6" fill="#fff"/>
<line x1="1506.6" y1="2285.4" x2="1506.6" y2="2348.0" stroke="#000" stroke-width="1.6" stroke-linecap="butt"/>
<line x1="1515.3" y1="2285.4" x2="1515.3" y2="2348.0" stroke="#000" stroke-width="1.6" stroke-linecap="butt"/>
<line x1="1127.0" y1="1884.0" x2="1127.0" y2="2002.5" stroke="#000" stroke-width="2.2" stroke-linecap="butt"/>
<line x1="1121.0" y1="1884.0" x2="1133.0" y2="1884.0" stroke="#000" stroke-width="2.2" stroke-linecap="butt"/>
<line x1="1121.0" y1="2002.5" x2="1133.0" y2="2002.5" stroke="#000" stroke-width="2.2" stroke-linecap="butt"/>
<line x1="1235.8" y1="1780.5" x2="1235.8" y2="1926.0" stroke="#000" stroke-width="2.2" stroke-linecap="butt"/>
<line x1="1229.8" y1="1780.5" x2="1241.8" y2="1780.5" stroke="#000" stroke-width="2.2" stroke-linecap="butt"/>
<line x1="1229.8" y1="1926.0" x2="1241.8" y2="1926.0" stroke="#000" stroke-width="2.2" stroke-linecap="butt"/>
<line x1="1345.0" y1="1926.0" x2="1345.0" y2="2003.5" stroke="#000" stroke-width="2.2" stroke-linecap="butt"/>
<line x1="1339.0" y1="1926.0" x2="1351.0" y2="1926.0" stroke="#000" stroke-width="2.2" stroke-linecap="butt"/>
<line x1="1339.0" y1="2003.5" x2="1351.0" y2="2003.5" stroke="#000" stroke-width="2.2" stroke-linecap="butt"/>
<line x1="1453.0" y1="1905.4" x2="1453.0" y2="1970.2" stroke="#000" stroke-width="2.2" stroke-linecap="butt"/>
<line x1="1447.0" y1="1905.4" x2="1459.0" y2="1905.4" stroke="#000" stroke-width="2.2" stroke-linecap="butt"/>
<line x1="1447.0" y1="1970.2" x2="1459.0" y2="1970.2" stroke="#000" stroke-width="2.2" stroke-linecap="butt"/>
<line x1="1561.6" y1="1910.4" x2="1561.6" y2="1999.8" stroke="#000" stroke-width="2.2" stroke-linecap="butt"/>
<line x1="1555.6" y1="1910.4" x2="1567.6" y2="1910.4" stroke="#000" stroke-width="2.2" stroke-linecap="butt"/>
<line x1="1555.6" y1="1999.8" x2="1567.6" y2="1999.8" stroke="#000" stroke-width="2.2" stroke-linecap="butt"/>
<polygon points="1127.0,1930.0 1140.0,1956.0 1114.0,1956.0" fill="#fff" stroke="#000" stroke-width="2" stroke-linejoin="miter" filter="url(#sh)"/>
<polygon points="1235.8,1841.0 1248.8,1867.0 1222.8,1867.0" fill="#fff" stroke="#000" stroke-width="2" stroke-linejoin="miter" filter="url(#sh)"/>
<polygon points="1345.0,1951.8 1358.0,1977.8 1332.0,1977.8" fill="#fff" stroke="#000" stroke-width="2" stroke-linejoin="miter" filter="url(#sh)"/>
<polygon points="1453.0,1925.7 1466.0,1951.7 1440.0,1951.7" fill="#fff" stroke="#000" stroke-width="2" stroke-linejoin="miter" filter="url(#sh)"/>
<polygon points="1562.0,1942.6 1575.0,1968.6 1549.0,1968.6" fill="#fff" stroke="#000" stroke-width="2" stroke-linejoin="miter" filter="url(#sh)"/>
<text x="1118.3" y="1890.2" font-size="60" fill="#000" stroke="#000" stroke-width="1.1">*</text>
<text x="1223.1" y="1784.2" font-size="60" fill="#000" stroke="#000" stroke-width="1.1">*</text>
<text x="1331.2" y="1925.4" font-size="60" fill="#000" stroke="#000" stroke-width="1.1">*</text>
<text x="1436.7" y="1913.1" font-size="60" fill="#000" stroke="#000" stroke-width="1.1">*</text>
<text x="1546.7" y="1914.4" font-size="60" fill="#000" stroke="#000" stroke-width="1.1">*</text>
<circle cx="1319.8" cy="2178" r="11.8" fill="#000"/>
<text x="1341.4" y="2189.9" font-size="30.4" fill="#000" >differentiation (-)</text>
<polygon points="1316.8,2205.8 1330.5,2233.0 1303.1,2233.0" fill="#fff" stroke="#000" stroke-width="3.8" stroke-linejoin="round"/>
<text x="1341.0" y="2230.0" font-size="30.4" fill="#000" >differentiation (+)</text>
</svg>
</body></html>
